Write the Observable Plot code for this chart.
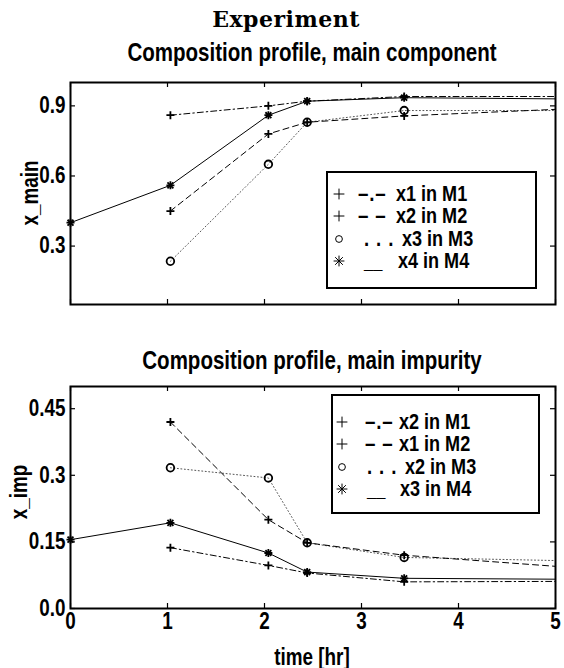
<!DOCTYPE html>
<html><head><meta charset="utf-8">
<script src="https://cdn.jsdelivr.net/npm/d3@7"></script>
<script src="https://cdn.jsdelivr.net/npm/@observablehq/plot@0.6"></script>
<style>
body{margin:0;background:#fff;}
#root{position:relative;width:564px;height:668px;overflow:hidden;background:#fff;color:#000;
 font-family:"Liberation Sans",Arial,sans-serif;font-weight:bold;}
.abs{position:absolute;white-space:pre;line-height:1;}
.legend{position:absolute;border:2px solid #000;background:#fff;box-sizing:border-box;}
</style></head><body><div id="root"></div>
<script>
// ---- data ----
const timesMeas = [1.03, 2.04, 2.44, 3.44];      // measurement times, models M1–M3
const timesM4 = [0, 1.03, 2.04, 2.44, 3.44];     // measurement times, model M4
const timeEnd = 5;                                // lines continue to the end of the axis

// main component
const mainM1 = [0.86, 0.90, 0.92, 0.94];   const mainM1End = 0.94;
const mainM2 = [0.45, 0.78, 0.83, 0.857];  const mainM2End = 0.885;
const mainM3 = [0.235, 0.65, 0.83, 0.88];  const mainM3End = 0.88;
const mainM4 = [0.40, 0.56, 0.86, 0.92, 0.935]; const mainM4End = 0.93;

// main impurity
const impM1 = [0.137, 0.097, 0.08, 0.06];  const impM1End = 0.061;
const impM2 = [0.42, 0.20, 0.148, 0.12];   const impM2End = 0.095;
const impM3 = [0.317, 0.294, 0.148, 0.115]; const impM3End = 0.108;
const impM4 = [0.155, 0.193, 0.125, 0.082, 0.068]; const impM4End = 0.066;

const xTicks = [0, 1, 2, 3, 4, 5];
const xTickLabels = ["0", "1", "2", "3", "4", "5"];
const mainTicks = [0.3, 0.6, 0.9];
const mainTickLabels = ["0.3", "0.6", "0.9"];
const impTicks = [0, 0.15, 0.3, 0.45];
const impTickLabels = ["0.0", "0.15", "0.3", "0.45"];

const mainLegend = ["x1 in M1", "x2 in M2", "x3 in M3", "x4 in M4"];
const impLegend = ["x2 in M1", "x1 in M2", "x2 in M3", "x3 in M4"];
const styleGlyphs = ["\u2013.\u2013", "\u2013 \u2013", ". . .", "__"];
const markerKinds = ["plus", "plus", "circle", "star"];
const dashes = ["6,3,1.5,3", "6,4", "1,2.5", null];

// ---- drawing ----
const root = document.getElementById("root");
const FONT = '"Liberation Sans",Arial,sans-serif';
const SX = 0.82; // horizontal condensation of the bold sans text
const W = 564, ML = 70, MR = 9, PH = 222, PW = W - ML - MR;

function addText(txt, x, y, size, opts = {}) {
  const d = document.createElement("div");
  d.className = "abs";
  d.textContent = txt;
  d.style.left = x + "px"; d.style.top = y + "px";
  d.style.fontSize = size + "px";
  const sx = opts.sx ?? SX;
  d.style.transform = `translate(-50%,-50%) ${opts.rotate ? "rotate(-90deg) " : ""}scaleX(${sx})`;
  if (opts.family) d.style.fontFamily = opts.family;
  if (opts.spacing) d.style.letterSpacing = opts.spacing;
  root.appendChild(d);
  return d;
}

function condenseSvgText(svg) {
  svg.querySelectorAll("text").forEach(t => {
    const b = t.getBBox();
    const anchor = t.getAttribute("text-anchor") || t.closest("[text-anchor]")?.getAttribute("text-anchor") || "start";
    const ax = anchor === "end" ? b.x + b.width : anchor === "middle" ? b.x + b.width / 2 : b.x;
    const prev = t.getAttribute("transform") || "";
    t.setAttribute("transform", `${prev} translate(${ax},0) scale(${SX},1) translate(${-ax},0)`);
  });
}

function panel(seriesVals, seriesEnds, yDomain, yTicks, yLabels, showX, mt, mb) {
  const lineRows = [], ptRows = [];
  seriesVals.forEach((vals, k) => {
    const ts = k === 3 ? timesM4 : timesMeas;
    vals.forEach((v, i) => {
      lineRows.push({t: ts[i], v, k});
      ptRows.push({t: ts[i], v, k, m: markerKinds[k]});
    });
    lineRows.push({t: timeEnd, v: seriesEnds[k], k});
  });
  const marks = [];
  [2, 1, 0, 3].forEach(k => {
    marks.push(Plot.line(lineRows.filter(d => d.k === k), {
      x: "t", y: "v", stroke: k === 2 ? "#555" : "black", strokeWidth: 1,
      strokeDasharray: dashes[k]
    }));
  });
  const plusPts = ptRows.filter(d => d.m === "plus" || d.m === "star");
  const starPts = ptRows.filter(d => d.m === "star");
  const circPts = ptRows.filter(d => d.m === "circle");
  marks.push(Plot.dot(circPts, {x: "t", y: "v", symbol: "circle", r: 3.8, stroke: "black", fill: "none", strokeWidth: 1.8}));
  marks.push(Plot.dot(plusPts, {x: "t", y: "v", symbol: "plus", r: 2.7, stroke: "black", strokeWidth: 1.8}));
  marks.push(Plot.dot(starPts, {x: "t", y: "v", symbol: "times", r: 2.8, stroke: "black", strokeWidth: 1.8}));
  // inward ticks on all four sides
  marks.push(Plot.tickY(yTicks, {y: d => d, insetRight: PW - 5, stroke: "black", strokeWidth: 1.2}));
  marks.push(Plot.tickY(yTicks, {y: d => d, insetLeft: PW - 5, stroke: "black", strokeWidth: 1.2}));
  marks.push(Plot.tickX(xTicks, {x: d => d, insetBottom: PH - 5, stroke: "black", strokeWidth: 1.2}));
  marks.push(Plot.tickX(xTicks, {x: d => d, insetTop: PH - 5, stroke: "black", strokeWidth: 1.2}));
  marks.push(Plot.axisY(yTicks, {tickSize: 0, tickPadding: 5, label: null,
    tickFormat: d => yLabels[yTicks.indexOf(d)]}));
  if (showX) marks.push(Plot.axisX(xTicks, {tickSize: 0, tickPadding: 4, label: null,
    tickFormat: d => xTickLabels[xTicks.indexOf(d)]}));
  marks.push(Plot.frame({stroke: "black", strokeWidth: 2}));
  return Plot.plot({
    width: W, height: mt + PH + mb,
    marginLeft: ML, marginRight: MR, marginTop: mt, marginBottom: mb,
    x: {domain: [0, 5], axis: null},
    y: {domain: yDomain, axis: null},
    style: {fontFamily: FONT, fontSize: "23px", fontWeight: "bold", color: "black", background: "transparent", overflow: "visible"},
    marks
  });
}

function place(svg, top) {
  Object.assign(svg.style, {position: "absolute", left: "0px", top: top + "px"});
  root.appendChild(svg);
  condenseSvgText(svg);
}

place(panel([mainM1, mainM2, mainM3, mainM4], [mainM1End, mainM2End, mainM3End, mainM4End],
  [0.05, 1.0], mainTicks, mainTickLabels, false, 10, 10), 72);
place(panel([impM1, impM2, impM3, impM4], [impM1End, impM2End, impM3End, impM4End],
  [0, 0.5], impTicks, impTickLabels, true, 10, 60), 376);

// titles and axis labels
addText("Experiment", 286, 19, 22, {family: '"DejaVu Serif","Liberation Serif",serif', sx: 1, spacing: "0.5px"});
addText("Composition profile, main component", 312, 52, 25);
addText("Composition profile, main impurity", 312, 360, 25);
addText("time [hr]", 312, 657, 23);
addText("x_main", 30, 193, 23, {rotate: true});
addText("x_imp", 19, 492, 23, {rotate: true});

// legends
function legend(left, top, width, height, firstRow, labels, lefts) {
  const box = document.createElement("div");
  box.className = "legend";
  Object.assign(box.style, {left: left + "px", top: top + "px", width: width + "px", height: height + "px"});
  root.appendChild(box);
  labels.forEach((lab, i) => {
    const cy = firstRow + i * 22.4;
    const s = d3.create("svg").attr("width", 12).attr("height", 12)
      .style("position", "absolute").style("left", (lefts[0] - 6) + "px").style("top", (cy - 6 - 2) + "px");
    const g = s.append("g").attr("transform", "translate(6,6)").attr("fill", "none").attr("stroke", "black").attr("stroke-width", 1);
    const kind = markerKinds[i];
    if (kind === "circle") g.append("path").attr("d", d3.symbol(d3.symbolCircle, 36)());
    else {
      g.append("path").attr("d", d3.symbol(d3.symbolPlus, 40)());
      if (kind === "star") g.append("path").attr("d", d3.symbol(d3.symbolTimes, 40)());
    }
    box.appendChild(s.node());
    // line-style glyphs
    const a = document.createElement("div");
    a.className = "abs"; a.textContent = styleGlyphs[i];
    Object.assign(a.style, {left: lefts[1][i] + "px", top: (cy - 2) + "px", fontSize: "22px",
      letterSpacing: i === 3 ? "0px" : "1px", transformOrigin: "0 50%",
      transform: `translateY(-50%) scaleX(${i === 3 ? 0.75 : 0.85})`});
    box.appendChild(a);
    // label
    const b = document.createElement("div");
    b.className = "abs"; b.textContent = lab;
    Object.assign(b.style, {left: lefts[2][i] + "px", top: (cy - 2) + "px", fontSize: "22px",
      transformOrigin: "0 50%", transform: `translateY(-50%) scaleX(${SX})`});
    box.appendChild(b);
  });
}
legend(326, 171, 211, 118, 23, mainLegend, [11, [30, 30, 36, 36], [68, 68, 74, 70]]);
legend(331, 394, 209, 120, 28, impLegend, [9, [32, 32, 34, 34], [66, 66, 72, 67]]);
</script></body></html>
